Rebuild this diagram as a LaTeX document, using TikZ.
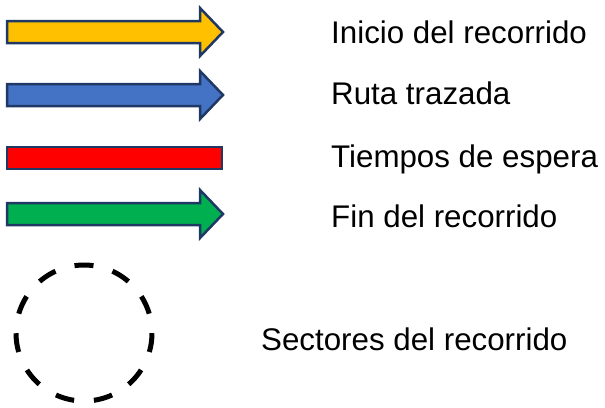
\documentclass[tikz,border=0pt]{standalone}
\usepackage{fontspec}
\setmainfont{Liberation Sans}
\definecolor{outl}{HTML}{1F3864}
\definecolor{cyellow}{HTML}{FFC000}
\definecolor{cblue}{HTML}{4472C4}
\definecolor{cred}{HTML}{FF0000}
\definecolor{cgreen}{HTML}{00B050}
\begin{document}
\begin{tikzpicture}[x=1pt,y=-1pt,
  shapeline/.style={draw=outl,line width=2.5pt,line join=miter},
  lbl/.style={anchor=base west,inner sep=0pt,font=\fontsize{31.3}{35}\selectfont}]
\useasboundingbox (0,0) rectangle (605,407);
% arrows
\newcommand{\legarrow}[2]{%
  \filldraw[shapeline,fill=#1] (7,#2-11) -- (200,#2-11) -- (200,#2-24) -- (223,#2) -- (200,#2+24) -- (200,#2+11) -- (7,#2+11) -- cycle;}
\legarrow{cyellow}{32}
\legarrow{cblue}{95}
\filldraw[shapeline,fill=cred] (7,147) rectangle (222,169);
\legarrow{cgreen}{214}
% dashed circle
\draw[line width=5pt,dash pattern=on 19pt off 19.84pt,dash phase=9.5pt]
  (84,333) ++(0,-68) arc[start angle=-90,end angle=270,radius=68];
% labels
\node[lbl] (t1) at (331,43) {Inicio del recorrido};
\node[lbl] (t2) at (331,104) {Ruta trazada};
\node[lbl] (t3) at (331,167) {Tiempos de espera};
\node[lbl] (t4) at (331,227) {Fin del recorrido};
\node[lbl] (t5) at (261,350) {Sectores del recorrido};
\end{tikzpicture}
\end{document}
